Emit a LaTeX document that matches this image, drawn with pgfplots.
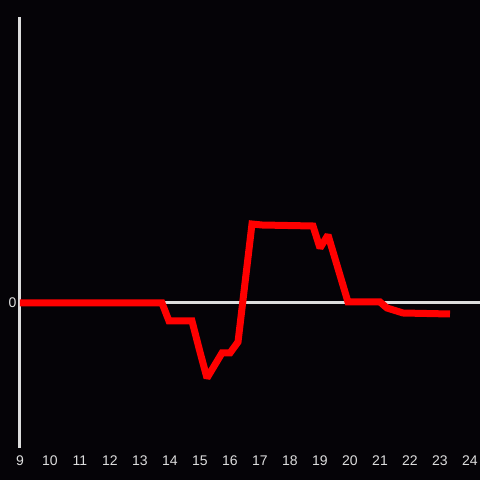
\documentclass[border=0pt]{standalone}
\usepackage{fontspec}
\setmainfont{Liberation Sans}
\usepackage{pgfplots}
\pgfplotsset{compat=1.18}
\definecolor{bg}{HTML}{050307}
\definecolor{ax}{HTML}{DDDDDD}
\begin{document}
\begin{tikzpicture}
\useasboundingbox[fill=bg] (0,0) rectangle (480pt,480pt);
\begin{axis}[
  at={(20pt,32pt)}, anchor=south west,
  scale only axis, width=460pt, height=431pt,
  xmin=9, xmax=24.3333, ymin=-145, ymax=286,
  axis y line=left, axis x line=bottom,
  x axis line style={draw=none},
  y axis line style={draw=ax, line width=3pt, -},
  xtick={9,10,...,24}, ytick={0},
  major tick length=0pt,
  ymajorgrids, grid style={draw=ax, line width=3pt},
  ticklabel style={text=ax, font=\fontsize{14pt}{16pt}\selectfont},
  /pgf/number format/assume math mode=true,
  xticklabel style={yshift=-4pt},
  yticklabel style={xshift=0pt},
  clip=false,
]
\addplot[color=red, line width=7pt, line join=miter, miter limit=2] coordinates {
(9,0) (13.733,0) (13.967,-18) (14.733,-18) (15.0,-49) (15.233,-75)
(15.733,-50) (16.0,-50) (16.267,-39) (16.733,79) (17.067,78) (18.767,77)
(19.0,55) (19.267,68) (19.933,1) (21.0,1) (21.233,-5) (21.767,-10) (23.333,-11)
};
\end{axis}
\end{tikzpicture}
\end{document}
